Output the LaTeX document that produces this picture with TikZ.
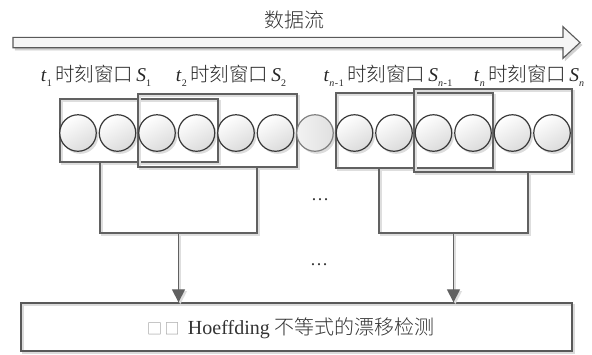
\documentclass[tikz,border=0pt]{standalone}
\usepackage{fontspec}
\setmainfont{Liberation Serif}
\newfontfamily\cjk{Noto Sans CJK SC Light}
\usetikzlibrary{arrows.meta,shadows,calc}
\newcommand\lowsub[1]{\raisebox{-0.3em}{\fontsize{10}{10}\selectfont #1}}
\newcommand\winlabel[2]{\textit{t}\lowsub{#1}\,{\cjk 时刻窗口}\,\textit{S}\lowsub{#2}}
\begin{document}
\begin{tikzpicture}[x=1pt,y=-1pt,
  lineshd/.style={preaction={draw=black!13,line width=1.8pt,transform canvas={shift={(1.8pt,-1.8pt)}}}},
  win/.style={draw=black!62,line width=1.2pt,inner sep=0pt,lineshd},
  ball/.style={circle,draw=black!78,line width=1.2pt,minimum size=36.5pt,inner sep=0pt,
    left color=white,right color=black!14,shading angle=30,
    drop shadow={shadow xshift=2.2pt,shadow yshift=-2.6pt,opacity=0.28}},
  gball/.style={ball,draw=black!50,left color=black!5,right color=black!12},
  conn/.style={draw=black!62,line width=1.2pt,lineshd},
  tip/.style={-{Triangle[width=13pt,length=13pt]}},
  lbl/.style={anchor=base,inner sep=0pt,font=\fontsize{19.5}{19.5}\selectfont,text=black!85},
  big/.style={inner sep=0pt,font=\fontsize{20}{20}\selectfont,text=black!80}
]
\useasboundingbox (0,0) rectangle (592,354);

% data stream arrow
\node[big] (ds) at (294,20) {\cjk 数据流};
\draw[draw=black!65,line width=1.1pt,fill=black!4,
  preaction={fill=black!18,draw=black!18,transform canvas={shift={(2pt,-2.5pt)}}}]
  (13,37.3) -- (563,37.3) -- (563,26.7) -- (580,42.5) -- (563,58.3) -- (563,47.7) -- (13,47.7) -- cycle;

% labels
\node[lbl] (l1) at (96,81) {\winlabel{1}{1}};
\node[lbl] (l2) at (231,81) {\winlabel{2}{2}};
\node[lbl] (l3) at (388,81) {\winlabel{\textit{n}\kern0.5pt{-}\kern0.5pt1}{\textit{n}\kern0.5pt{-}\kern0.5pt1}};
\node[lbl] (l4) at (529,81) {\winlabel{\textit{n}}{\textit{n}}};

% windows
\node[win,minimum width=158pt,minimum height=63pt] (w1) at (139,130.5) {};
\node[win,minimum width=159pt,minimum height=73pt] (w2) at (217.5,130.5) {};
\node[win,minimum width=157pt,minimum height=75pt] (w3) at (414.5,130.5) {};
\node[win,minimum width=158pt,minimum height=83pt] (w4) at (493,130.5) {};

% circles
\foreach \i in {1,...,6}{
  \node[ball] (c\i) at ({78+(\i-1)*39.5},133) {};
}
\node[gball] (c7) at (315,133) {};
\foreach \i in {8,...,13}{
  \node[ball] (c\i) at ({78+(\i-1)*39.5},133) {};
}

% detection box
\node[draw=black!65,line width=1.3pt,minimum width=551pt,minimum height=48pt,inner sep=0pt,
  preaction={draw=black!14,line width=2pt,transform canvas={shift={(2pt,-2.2pt)}}}] (det) at (296.5,327) {};
\node[big,anchor=base] (dett) at (291,334) {{\cjk\fontsize{15}{15}\selectfont\color{black!45}□\,□}\, Hoeffding {\cjk 不等式的漂移检测}};

% brackets
\coordinate (b1) at (100,233);
\coordinate (b2) at (257,233);
\coordinate (b3) at (379,233);
\coordinate (b4) at (528,233);
\coordinate (m1) at (178.5,233);
\coordinate (m2) at (453.5,233);
\draw[conn] (w1.south -| b1) -- (b1) -- (b2) -- (w2.south -| b2);
\draw[conn] (w3.south -| b3) -- (b3) -- (b4) -- (w4.south -| b4);
\draw[conn,tip,fill=black!62] (m1) -- (det.north -| m1);
\draw[conn,tip,fill=black!62] (m2) -- (det.north -| m2);

% ellipses
\node[inner sep=0pt,font=\fontsize{18}{18}\selectfont,text=black!80] (e1) at (320,200) {…};
\node[inner sep=0pt,font=\fontsize{18}{18}\selectfont,text=black!80] (e2) at (319,265) {…};
\end{tikzpicture}
\end{document}
